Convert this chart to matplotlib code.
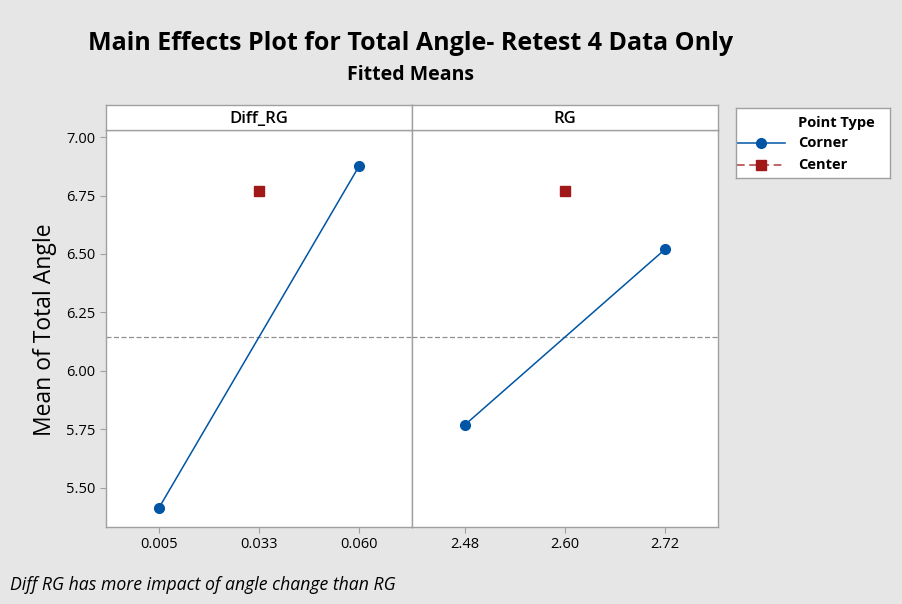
import matplotlib.pyplot as plt

plt.rcParams["font.family"] = ["Open Sans", "DejaVu Sans"]

W, H = 903, 604

panels = ["Diff_RG", "RG"]
tick_labels = [["0.005", "0.033", "0.060"], ["2.48", "2.60", "2.72"]]
corner_means = [[5.415, 6.875], [5.77, 6.52]]
center_means = [6.77, 6.77]
grand_mean = 6.145

yticks = [5.50, 5.75, 6.00, 6.25, 6.50, 6.75, 7.00]

BLUE = "#0055a5"
RED = "#a01818"
BG = "#e6e6e6"
EDGE = "#a0a0a0"


def px_axes(fig, x0, y0, x1, y1):
    # pixel box (top-left origin) -> figure axes
    return fig.add_axes([x0 / W, (H - y1) / H, (x1 - x0) / W, (y1 - y0) / H])


fig = plt.figure(figsize=(W / 100, H / 100), dpi=100, facecolor=BG)

fig.text(411 / W, 1 - 44 / H, "Main Effects Plot for Total Angle- Retest 4 Data Only",
         ha="center", va="center", fontsize=18, fontweight="bold")
fig.text(411 / W, 1 - 75 / H, "Fitted Means", ha="center", va="center",
         fontsize=14, fontweight="bold")

lefts = [106, 412]
for i, name in enumerate(panels):
    x0 = lefts[i]
    ax = px_axes(fig, x0, 130, x0 + 306, 527)
    ax.set_facecolor("white")
    ax.axhline(grand_mean, color="#909090", ls=(0, (4, 2)), lw=0.9, zorder=1)
    ax.plot([0, 2], corner_means[i], color=BLUE, lw=1.1, marker="o", ms=7,
            zorder=3)
    ax.plot([1], [center_means[i]], color=RED, marker="s", ms=7, ls="none",
            zorder=3)
    ax.set_xlim(-0.53, 2.53)
    ax.set_ylim(5.333, 7.03)
    ax.set_xticks([0, 1, 2])
    ax.set_xticklabels(tick_labels[i])
    ax.set_yticks(yticks)
    ax.set_yticklabels([f"{v:.2f}" for v in yticks])
    ax.tick_params(axis="both", labelsize=10.5, color=EDGE, length=4, width=0.8)
    if i > 0:
        ax.tick_params(axis="y", left=False, labelleft=False)
    for s in ax.spines.values():
        s.set_color(EDGE)
        s.set_linewidth(1.0)

    strip = px_axes(fig, x0, 105, x0 + 306, 130)
    strip.set_facecolor("white")
    strip.set_xticks([])
    strip.set_yticks([])
    for s in strip.spines.values():
        s.set_color(EDGE)
        s.set_linewidth(1.0)
    strip.text(0.5, 0.45, name, ha="center", va="center", fontsize=12,
               fontweight="semibold", transform=strip.transAxes)

fig.text(45 / W, 1 - 330 / H, "Mean of Total Angle", rotation=90, ha="center",
         va="center", fontsize=16.5)

fig.text(10 / W, 1 - 585 / H, "Diff RG has more impact of angle change than RG",
         ha="left", va="center", fontsize=12.7, style="italic")

# legend
lax = px_axes(fig, 736, 108, 890, 178)
lax.set_facecolor("white")
lax.set_xlim(0, 154)
lax.set_ylim(70, 0)
lax.set_xticks([])
lax.set_yticks([])
for s in lax.spines.values():
    s.set_color(EDGE)
    s.set_linewidth(1.0)
lax.text(62, 15, "Point Type", ha="left", va="center", fontsize=10.5,
         fontweight="bold")
lax.plot([1, 49], [35, 35], color=BLUE, lw=1.1)
lax.plot([25], [35], color=BLUE, marker="o", ms=7)
lax.text(62, 35, "Corner", ha="left", va="center", fontsize=10.5, fontweight="bold")
lax.plot([1, 49], [57, 57], color=RED, lw=1.1, ls=(0, (5, 3)), alpha=0.85)
lax.plot([25], [57], color=RED, marker="s", ms=7)
lax.text(62, 57, "Center", ha="left", va="center", fontsize=10.5, fontweight="bold")

fig.savefig("out.png", dpi=100, facecolor=BG)
